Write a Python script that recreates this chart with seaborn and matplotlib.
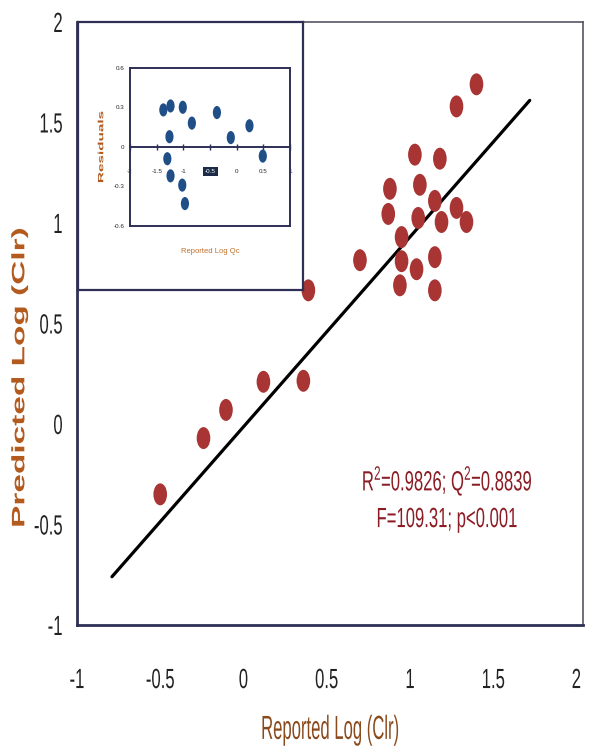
import matplotlib
matplotlib.use("Agg")
import matplotlib.pyplot as plt
import seaborn as sns
import pandas as pd
from matplotlib.path import Path
from matplotlib.transforms import Affine2D
from matplotlib.patheffects import AbstractPathEffect

# ---------------- data ----------------
reported_log_clr = [-0.50, -0.24, -0.105, 0.12, 0.36, 0.39, 0.70,
                    1.40, 1.28, 1.03, 1.18, 0.88, 1.06, 0.87, 1.15, 1.05,
                    1.28, 1.19, 1.34, 0.95, 0.95, 1.15, 1.04, 0.94, 1.15]
predicted_log_clr = [-0.35, -0.07, 0.07, 0.21, 0.215, 0.665, 0.815,
                     1.69, 1.58, 1.34, 1.32, 1.17, 1.19, 1.045, 1.11, 1.025,
                     1.075, 1.005, 1.005, 0.93, 0.81, 0.83, 0.77, 0.69, 0.665]
fit_line_x = [-0.79, 1.72]
fit_line_y = [-0.76, 1.61]

inset_reported_log_qc = [-1.375, -1.24, -1.01, -0.84, -1.26, -0.37, -0.11,
                         0.24, 0.49, -1.30, -1.24, -1.02, -0.97]
inset_residuals = [0.28, 0.31, 0.30, 0.18, 0.077, 0.26, 0.07,
                   0.16, -0.07, -0.09, -0.22, -0.29, -0.43]

main_xticks = [-1, -0.5, 0, 0.5, 1, 1.5, 2]
main_xtick_labels = ["-1", "-0.5", "0", "0.5", "1", "1.5", "2"]
main_yticks = [-1, -0.5, 0, 0.5, 1, 1.5, 2]
main_ytick_labels = ["-1", "-0.5", "0", "0.5", "1", "1.5", "2"]
inset_xticks = [-2, -1.5, -1, -0.5, 0, 0.5, 1]
inset_xtick_labels = ["-2", "-1.5", "-1", "-0.5", "0", "0.5", "1"]
inset_yticks = [-0.6, -0.3, 0, 0.3, 0.6]
inset_ytick_labels = ["-0.6", "-0.3", "0", "0.3", "0.6"]

stats_line1 = "R$^2$=0.9826; Q$^2$=0.8839"
stats_line2 = "F=109.31; p<0.001"


# ---------------- helpers ----------------
class Squeeze(AbstractPathEffect):
    """Draw text condensed/stretched about its centre (or right edge)."""

    def __init__(self, sx=1.0, sy=1.0, anchor="center"):
        super().__init__()
        self.sx, self.sy, self.anchor = sx, sy, anchor

    def draw_path(self, renderer, gc, tpath, affine, rgbFace=None):
        ext = tpath.get_extents(affine)
        ax0 = ext.x1 if self.anchor == "right" else (ext.x0 + ext.x1) / 2
        cy = (ext.y0 + ext.y1) / 2
        t = affine + Affine2D().translate(-ax0, -cy).scale(self.sx, self.sy).translate(ax0, cy)
        renderer.draw_path(gc, tpath, t, rgbFace)


circ = Path.unit_circle()
ellipse = Path(Affine2D().scale(0.62, 1.0).transform(circ.vertices), circ.codes)

# ---------------- style ----------------
sns.set_style("white")
plt.rcParams["font.family"] = ["Liberation Sans", "DejaVu Sans"]
plt.rcParams["mathtext.fontset"] = "custom"
plt.rcParams["mathtext.rm"] = "Liberation Sans"

navy = "#2e2f55"
red = "#a83434"
blue = "#1f4f86"
label_brown = "#b35a1f"
SQ = 0.6

fig = plt.figure(figsize=(5.89, 7.53), dpi=100)
ax = fig.add_axes([77 / 589, 1 - 625 / 753, 506 / 589, 603 / 753])

main_df = pd.DataFrame({"x": reported_log_clr, "y": predicted_log_clr})
sns.scatterplot(data=main_df, x="x", y="y", ax=ax, s=250, color=red,
                marker=ellipse, edgecolor="none", zorder=3)
sns.lineplot(x=fit_line_x, y=fit_line_y, ax=ax, color="black", lw=2.3, zorder=2)

ax.set_xlim(-1, 2.04)
ax.set_ylim(-1, 2)
ax.set_xticks(main_xticks, main_xtick_labels)
ax.set_yticks(main_yticks, main_ytick_labels)
ax.tick_params(axis="both", direction="out", length=6, width=1.5,
               color=navy, labelsize=20, labelcolor="#222222")
ax.tick_params(axis="x", pad=25)
ax.tick_params(axis="y", pad=4)
for lbl in ax.get_xticklabels():
    lbl.set_path_effects([Squeeze(sx=SQ)])
for lbl in ax.get_yticklabels():
    lbl.set_path_effects([Squeeze(sx=SQ, anchor="right")])
for side in ["left", "bottom"]:
    ax.spines[side].set_color(navy)
    ax.spines[side].set_linewidth(2)
for side in ["top", "right"]:
    ax.spines[side].set_color("#555566")
    ax.spines[side].set_linewidth(1.2)

xl = ax.set_xlabel("Reported Log (Clr)", fontsize=24, color="#8a4a1c", labelpad=15)
xl.set_path_effects([Squeeze(sx=0.5)])
yl = ax.set_ylabel("Predicted Log (Clr)", fontsize=13, color=label_brown,
                   fontweight="bold", va="center")
yl.set_path_effects([Squeeze(sy=1.85)])
ax.yaxis.set_label_coords(-0.113, 0.41)

t1 = ax.text(0.731, 0.239, stats_line1, transform=ax.transAxes, ha="center",
             va="center", fontsize=20, color="#8b1c24")
t2 = ax.text(0.731, 0.174, stats_line2, transform=ax.transAxes, ha="center",
             va="center", fontsize=20, color="#8b1c24")
t1.set_path_effects([Squeeze(sx=SQ)])
t2.set_path_effects([Squeeze(sx=SQ)])

# ---------------- inset ----------------
outer = fig.add_axes([78 / 589, 1 - 290 / 753, 225 / 589, 268 / 753])
outer.set_xticks([])
outer.set_yticks([])
outer.set_facecolor("white")
for sp in outer.spines.values():
    sp.set_color(navy)
    sp.set_linewidth(1.6)

ins = fig.add_axes([130 / 589, 1 - 226 / 753, 160 / 589, 158.3 / 753])
ins_df = pd.DataFrame({"x": inset_reported_log_qc, "y": inset_residuals})
sns.scatterplot(data=ins_df, x="x", y="y", ax=ins, s=90, color=blue,
                marker=ellipse, edgecolor="none", zorder=4)
ins.set_xlim(-2, 1)
ins.set_ylim(-0.6, 0.6)
ins.set_yticks(inset_yticks, inset_ytick_labels)
ins.set_xticks([])
ins.tick_params(axis="y", length=2, width=1, color=navy, labelsize=4.5, pad=2)
for sp in ins.spines.values():
    sp.set_color(navy)
    sp.set_linewidth(1.4)
sec = ins.secondary_xaxis(0.5)
sec.set_zorder(1)
sec.xaxis.set_ticks_position("bottom")
sec.set_xticks(inset_xticks, inset_xtick_labels)
sec.tick_params(axis="x", direction="inout", length=4, width=1, color=navy,
                labelsize=4.5, pad=14)
for sp in sec.spines.values():
    sp.set_color(navy)
    sp.set_linewidth(1.4)
for lbl in sec.get_xticklabels():
    if lbl.get_text() == "-0.5":
        lbl.set_color("white")
        lbl.set_bbox(dict(facecolor="#1b2b48", edgecolor="none", pad=1.5))
ixl = ins.set_xlabel("Reported Log Qc", fontsize=5.5, color="#c0702a", labelpad=16)
iyl = ins.set_ylabel("Residuals", fontsize=5.5, color=label_brown,
                     fontweight="bold", labelpad=6)
iyl.set_path_effects([Squeeze(sy=2.0)])

fig.savefig("out.png", dpi=100)
